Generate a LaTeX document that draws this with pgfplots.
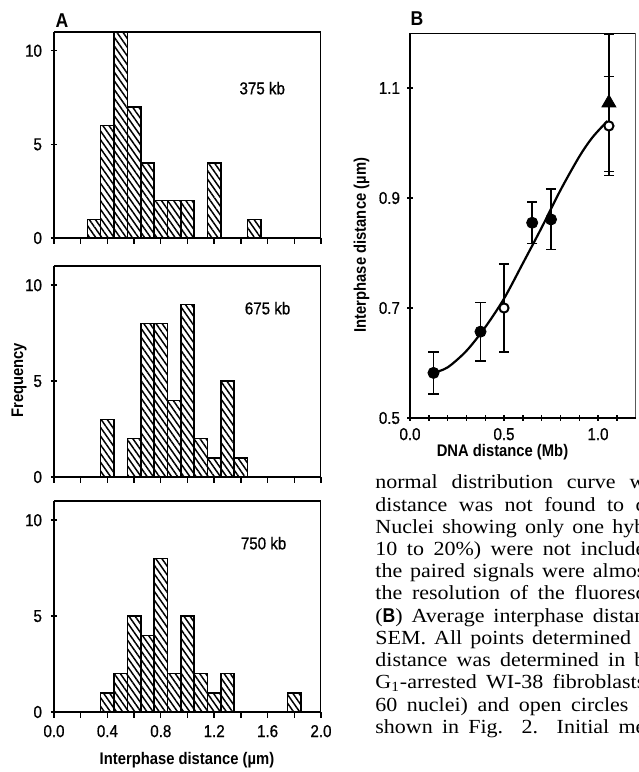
\documentclass[border=0pt]{standalone}
\usepackage{fontspec}
\setmainfont[FakeStretch=1.1]{Liberation Serif}
\newfontfamily\figfont[FakeStretch=0.88]{Liberation Sans}
\newfontfamily\tickfam[FakeStretch=0.88, FakeBold=0.8]{Liberation Sans}
\usepackage{pgfplots}
\pgfplotsset{compat=1.18}
\usetikzlibrary{patterns.meta}

\newcommand\tickfont{\tickfam\fontsize{8.6}{10}\selectfont}
\newcommand\labfont{\figfont\bfseries\fontsize{8.4}{10}\selectfont}

\pgfplotsset{
  histo/.style={
    scale only axis, width=133.5pt, anchor=south west,
    xmin=0, xmax=2, ymin=0, ymax=11,
    axis x line*=bottom, axis y line*=left,
    axis line style={-, line width=1pt},
    ytick={0,5,10}, xtick={0,0.4,...,2.01}, minor xtick={0.2,0.6,...,1.81},
    tick align=center, major tick length=3pt, minor tick length=3pt,
    every tick/.style={black, line width=0.7pt},
    ticklabel style={font=\tickfont},
    xticklabel style={/pgf/number format/.cd, fixed, fixed zerofill, precision=1, assume math mode=true},
    yticklabel style={/pgf/number format/assume math mode=true, xshift=-1pt},
    ybar, bar width=0.1,
  },
  hatch/.style={draw=black, line width=0.75pt,
    pattern={Lines[angle=-55, distance=2.5pt, line width=0.75pt]}},
}

\begin{document}
\begin{tikzpicture}
\path[use as bounding box, clip] (0,0) rectangle (319pt,386pt);

% A, 375 kb
\begin{axis}[histo, at={(27pt,267pt)}, height=103pt, xticklabels=\empty]
\addplot[hatch] coordinates {(0.3,1) (0.4,6) (0.5,11) (0.6,7) (0.7,4) (0.8,2) (0.9,2) (1.0,2) (1.2,4) (1.5,1)};
\draw[line width=0.65pt] (rel axis cs:0,1) -- (rel axis cs:1,1) -- (rel axis cs:1,0);
\node[font=\tickfont] at (axis cs:1.56,8.0) {375 kb};
\end{axis}

% A, 675 kb
\begin{axis}[histo, at={(27pt,147.5pt)}, height=105.5pt, xticklabels=\empty,
  ylabel={Frequency}, ylabel style={font=\labfont, at={(axis description cs:-0.131,0.458)}, anchor=center}]
\addplot[hatch] coordinates {(0.4,3) (0.6,2) (0.7,8) (0.8,8) (0.9,4) (1.0,9) (1.1,2) (1.2,1) (1.3,5) (1.4,1)};
\draw[line width=0.65pt] (rel axis cs:0,1) -- (rel axis cs:1,1) -- (rel axis cs:1,0);
\node[font=\tickfont] at (axis cs:1.6,8.8) {675 kb};
\end{axis}

% A, 750 kb
\begin{axis}[histo, at={(27pt,30pt)}, height=105.5pt,
  xlabel={Interphase distance (\textmu m)}, xlabel style={font=\labfont, at={(axis description cs:0.498,-0.226)}, anchor=center}]
\addplot[hatch] coordinates {(0.4,1) (0.5,2) (0.6,5) (0.7,4) (0.8,8) (0.9,2) (1.0,5) (1.1,2) (1.2,1) (1.3,2) (1.8,1)};
\draw[line width=0.65pt] (rel axis cs:0,1) -- (rel axis cs:1,1) -- (rel axis cs:1,0);
\node[font=\tickfont] at (axis cs:1.57,8.8) {750 kb};
\end{axis}

% B
\begin{axis}[scale only axis, at={(205pt,177pt)}, anchor=south west, width=112.8pt, height=192.5pt,
  xmin=0, xmax=1.2, ymin=0.5, ymax=1.2,
  axis x line*=bottom, axis y line*=left, axis line style={-, line width=1pt},
  xtick={0,0.5,1.0}, minor xtick={0.1,0.2,0.3,0.4,0.6,0.7,0.8,0.9,1.1},
  ytick={0.5,0.7,0.9,1.1},
  tick align=center, major tick length=3pt, minor tick length=3pt,
  every tick/.style={black, line width=0.7pt},
  ticklabel style={font=\tickfont, /pgf/number format/.cd, fixed, fixed zerofill, precision=1, assume math mode=true},
  xlabel={DNA distance (Mb)}, xlabel style={font=\labfont, at={(axis description cs:0.41,-0.088)}, anchor=center},
  ylabel={Interphase distance (\textmu m)}, ylabel style={font=\labfont, at={(axis description cs:-0.215,0.449)}, anchor=center},
  error bars/error bar style={line width=0.75pt, black},
  error bars/error mark options={rotate=90, mark size=2.6pt, line width=0.75pt, black},
]
\addplot[smooth, line width=1.1pt] coordinates {(0.124,0.582) (0.2,0.592) (0.3,0.622) (0.4,0.665) (0.5,0.717) (0.6,0.781) (0.7,0.846) (0.8,0.914) (0.9,0.975) (0.97,1.010) (1.05,1.040)};
\addplot[only marks, mark=*, mark size=2.8pt, black, error bars/.cd, y dir=both, y explicit]
  coordinates {(0.125,0.582) +- (0,0.038) (0.375,0.657) +- (0,0.053) (0.65,0.855) +- (0,0.038) (0.75,0.861) +- (0,0.055)};
\addplot[only marks, mark=triangle*, mark size=4pt, black, error bars/.cd, y dir=both, y explicit]
  coordinates {(1.058,1.073) +- (0,0.125)};
\addplot[only marks, mark=*, mark size=2.3pt, mark options={fill=white, line width=1pt}, black, error bars/.cd, y dir=both, y explicit]
  coordinates {(0.5,0.700) +- (0,0.080) (1.058,1.031) +- (0,0.09)};
\draw[line width=0.65pt] (rel axis cs:0,1) -- (rel axis cs:1,1) -- (rel axis cs:1,0);
\end{axis}

\node[font=\figfont\bfseries\fontsize{10}{12}\selectfont] at (31pt,375.5pt) {A};
\node[font=\figfont\bfseries\fontsize{10}{12}\selectfont] at (208.5pt,376.5pt) {B};

% caption text beside the plots
\begin{scope}[every node/.style={anchor=base west, inner sep=0pt, font=\fontsize{10}{12}\selectfont}]
\node at (187.5pt,141.5pt) {\makebox[135pt][s]{normal distribution curve w}};
\node at (187.5pt,130.4pt) {\makebox[135pt][s]{distance was not found to c}};
\node at (187.5pt,119.3pt) {\makebox[135pt][s]{Nuclei showing only one hyb}};
\node at (187.5pt,108.2pt) {\makebox[135pt][s]{10 to 20\%) were not include}};
\node at (187.5pt,97.1pt) {\makebox[135pt][s]{the paired signals were almos}};
\node at (187.5pt,86.0pt) {\makebox[135pt][s]{the resolution of the fluoresc}};
\node at (187.5pt,74.9pt) {\makebox[135pt][s]{({\figfont\bfseries B}) Average interphase distan}};
\node at (187.5pt,63.8pt) {\makebox[135pt][s]{SEM. All points determined i}};
\node at (187.5pt,52.7pt) {\makebox[135pt][s]{distance was determined in b}};
\node at (187.5pt,41.6pt) {\makebox[135pt][s]{G\textsubscript{1}-arrested WI-38 fibroblasts}};
\node at (187.5pt,30.5pt) {\makebox[135pt][s]{60 nuclei) and open circles (}};
\node at (187.5pt,19.4pt) {\makebox[135pt][s]{shown in Fig. 2. Initial me}};
\end{scope}
\end{tikzpicture}
\end{document}
